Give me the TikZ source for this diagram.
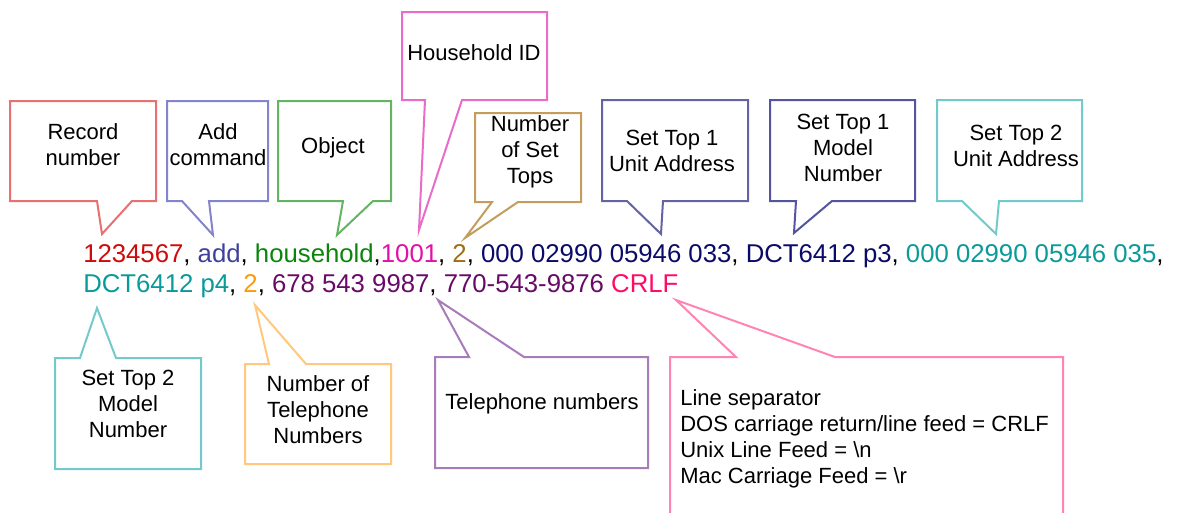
\documentclass[tikz,border=0pt]{standalone}
\usepackage{fontspec}
\setmainfont{Liberation Sans}

% text colours of the record fields
\definecolor{tRec}{HTML}{D00A0A}
\definecolor{tAdd}{HTML}{40409C}
\definecolor{tObj}{HTML}{0A850A}
\definecolor{tHid}{HTML}{E010A8}
\definecolor{tNst}{HTML}{A06C14}
\definecolor{tStOne}{HTML}{0A0A68}
\definecolor{tStTwo}{HTML}{0A9A9A}
\definecolor{tNtel}{HTML}{FF9A0A}
\definecolor{tTel}{HTML}{680A68}
\definecolor{tCrlf}{HTML}{FF0A64}

% outline colours of the callouts
\definecolor{bRec}{HTML}{E87070}
\definecolor{bAdd}{HTML}{8484CC}
\definecolor{bObj}{HTML}{64B464}
\definecolor{bHid}{HTML}{E86CC8}
\definecolor{bNst}{HTML}{C49C5C}
\definecolor{bStOne}{HTML}{6464A4}
\definecolor{bStOneM}{HTML}{5454A0}
\definecolor{bStTwo}{HTML}{74CACA}
\definecolor{bNtel}{HTML}{FFC87C}
\definecolor{bTel}{HTML}{A87CB8}
\definecolor{bSep}{HTML}{FF84B4}

\begin{document}
\begin{tikzpicture}[x=0.75pt,y=-0.75pt,
  callout/.style={line width=1.5pt, line join=miter, fill=white},
  lbl/.style={align=center, font=\fontsize{16.5}{19.5}\selectfont, inner sep=0pt, text=black},
  recline/.style={anchor=base west, inner sep=0pt, font=\fontsize{19.3}{22}\selectfont}]

\useasboundingbox (0,0) rectangle (1179,512);
\clip (0,0) rectangle (1179,512);

% ---- callouts above the record ----
\draw[callout, draw=bRec] (10,101) -- (156,101) -- (156,201) -- (132,201) -- (102,234) -- (97,201) -- (10,201) -- cycle;
\draw[callout, draw=bAdd] (167,101) -- (268,101) -- (268,201) -- (209,201) -- (213,235) -- (182,201) -- (167,201) -- cycle;
\draw[callout, draw=bObj] (278,101) -- (391,101) -- (391,201) -- (373,201) -- (337,235) -- (343,201) -- (278,201) -- cycle;
\draw[callout, draw=bHid] (402,12) -- (547,12) -- (547,100) -- (462,100) -- (419,230) -- (425,100) -- (402,100) -- cycle;
\draw[callout, draw=bNst] (475,113) -- (581,113) -- (581,202) -- (518,202) -- (465,238) -- (492,202) -- (475,202) -- cycle;
\draw[callout, draw=bStOne] (602,100) -- (748,100) -- (748,201) -- (663,201) -- (661,234) -- (627,201) -- (602,201) -- cycle;
\draw[callout, draw=bStOneM] (770,100) -- (915,100) -- (915,201) -- (832,201) -- (794,233) -- (796,201) -- (770,201) -- cycle;
\draw[callout, draw=bStTwo] (937,100) -- (1082,100) -- (1082,201) -- (999,201) -- (996,234) -- (962,201) -- (937,201) -- cycle;

% ---- callouts below the record ----
\draw[callout, draw=bStTwo] (55,358) -- (80,358) -- (97,308) -- (116,358) -- (201,358) -- (201,469) -- (55,469) -- cycle;
\draw[callout, draw=bNtel] (245,364) -- (269,364) -- (255,305) -- (306,364) -- (391,364) -- (391,464) -- (245,464) -- cycle;
\draw[callout, draw=bTel] (435,357) -- (469,357) -- (438,300) -- (524,357) -- (648,357) -- (648,468) -- (435,468) -- cycle;
\draw[callout, draw=bSep] (670,357) -- (736,357) -- (676,300) -- (835,357) -- (1063,357) -- (1063,540) -- (670,540) -- cycle;

% ---- callout labels ----
\node[lbl] (recno) at (83,145) {Record\\number};
\node[lbl] (addcmd) at (218,145) {Add\\command};
\node[lbl] (obj) at (333,148) {Object};
\node[lbl] (hid) at (474,53) {Household ID};
\node[lbl] (nst) at (530,152) {Number\\of Set\\Tops};
\node[lbl] (stoneua) at (672,151) {Set Top 1\\Unit Address};
\node[lbl] (stonemn) at (843,148) {Set Top 1\\Model\\Number};
\node[lbl] (sttwoua) at (1016,146) {Set Top 2\\Unit Address};
\node[lbl] (sttwomn) at (128,404) {Set Top 2\\Model\\Number};
\node[lbl] (ntel) at (318,410) {Number of\\Telephone\\Numbers};
\node[lbl] (tel) at (542,404) {Telephone numbers};
\node[lbl, align=left, anchor=north west] (sep) at (680,389)
  {Line separator\\DOS carriage return/line feed = CRLF\\Unix Line Feed = \textbackslash n\\Mac Carriage Feed = \textbackslash r};

% ---- the record itself ----
\node[recline] (recone) at (83,262)
  {\textcolor{tRec}{1234567}, \textcolor{tAdd}{add}, \textcolor{tObj}{household},\textcolor{tHid}{1001}, \textcolor{tNst}{2}, \textcolor{tStOne}{000 02990 05946 033}, \textcolor{tStOne}{DCT6412 p3}, \textcolor{tStTwo}{000 02990 05946 035},};
\node[recline] (rectwo) at (83,292)
  {\textcolor{tStTwo}{DCT6412 p4}, \textcolor{tNtel}{2}, \textcolor{tTel}{678 543 9987}, \textcolor{tTel}{770-543-9876} \textcolor{tCrlf}{CRLF}};
\end{tikzpicture}
\end{document}
